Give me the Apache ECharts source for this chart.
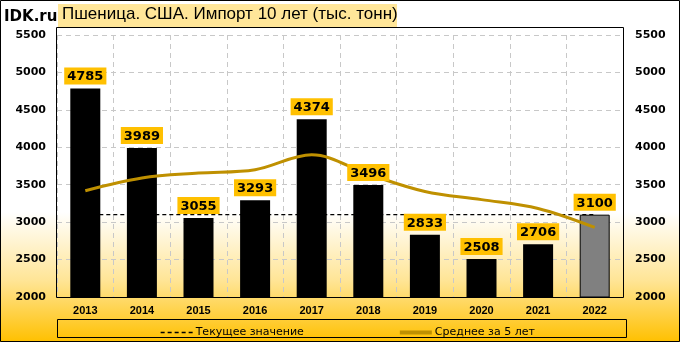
<!DOCTYPE html>
<html><head><meta charset="utf-8">
<script src="https://cdn.jsdelivr.net/npm/echarts@6/dist/echarts.min.js"></script>
<style>html,body{margin:0;padding:0;}#c{width:680px;height:342px;}</style>
</head><body><div id="c"></div>
<script>
const categories = ['2013','2014','2015','2016','2017','2018','2019','2020','2021','2022'];
const imports = [4785, 3989, 3055, 3293, 4374, 3496, 2833, 2508, 2706, 3100];
const avg5 = [3420, 3590, 3655, 3700, 3899, 3641, 3410, 3301, 3183, 2929];
const currentValue = [3100, 3100, 3100, 3100, 3100, 3100, 3100, 3100, 3100, 3100];
const yTicks = [2000, 5500, 500];
const titleText = 'Пшеница. США. Импорт 10 лет (тыс. тонн)';
const siteText = 'IDK.ru';
const legendNames = ['Текущее значение', 'Среднее за 5 лет'];

const chart = echarts.init(document.getElementById('c'), null, {renderer: 'canvas'});
const barData = imports.map((v, i) => i === imports.length - 1
  ? {value: v, itemStyle: {color: '#808080', borderColor: '#000', borderWidth: 1}}
  : v);
const axisLabelStyle = {fontFamily: 'DejaVu Sans', fontWeight: 'bold', fontSize: 11, color: '#000',
  formatter: v => String(v)};
chart.setOption({
  animation: false,
  backgroundColor: {type: 'linear', x: 0, y: 0, x2: 0, y2: 1, colorStops: [
    {offset: 0, color: '#ffffff'}, {offset: 0.62, color: '#ffffff'},
    {offset: 0.82, color: '#FFE596'}, {offset: 1, color: '#FFC000'}]},
  grid: {left: 57, right: 57, top: 35, bottom: 45},
  legend: {
    data: legendNames.map((n, i) => ({name: n, itemStyle: {opacity: 0},
      lineStyle: i === 0 ? {width: 1.3, type: [4, 3]} : {width: 4}})),
    left: 155, top: 322, itemWidth: 32, itemHeight: 12, itemGap: 94,
    textStyle: {fontFamily: 'DejaVu Sans', fontSize: 11, color: '#000', padding: [0,0,0,-2]}
  },
  xAxis: {
    type: 'category', data: categories,
    axisLine: {show: false}, axisTick: {show: false},
    axisLabel: {fontFamily: 'Liberation Sans', fontWeight: 'bold', fontSize: 11, color: '#000', margin: 8},
    splitLine: {show: true, interval: 0, lineStyle: {color: '#c8c8c8', type: [5, 4]}}
  },
  yAxis: [
    {type: 'value', min: yTicks[0], max: yTicks[1], interval: yTicks[2],
     axisLine: {show: false}, axisTick: {show: false},
     axisLabel: Object.assign({margin: 11}, axisLabelStyle),
     splitLine: {lineStyle: {color: '#c8c8c8', type: [5, 4]}}},
    {type: 'value', min: yTicks[0], max: yTicks[1], interval: yTicks[2], position: 'right',
     axisLine: {show: false}, axisTick: {show: false},
     axisLabel: Object.assign({margin: 12}, axisLabelStyle),
     splitLine: {show: false}}
  ],
  series: [
    {name: legendNames[0], type: 'line', data: currentValue, z: 1, symbol: 'none', showSymbol: false,
     lineStyle: {color: '#000', width: 1.3, type: [4, 3]}, itemStyle: {color: '#000'}},
    {name: 'bars', type: 'bar', data: barData, barWidth: 30, z: 2,
     itemStyle: {color: '#000'}},
    {name: legendNames[1], type: 'line', data: avg5, z: 3, symbol: 'none', showSymbol: false, smooth: 0.35,
     lineStyle: {color: '#BF9000', width: 3}, itemStyle: {color: '#BF9000'}},
    {name: 'labels', type: 'bar', data: imports, barWidth: 30, barGap: '-100%', z: 5,
     itemStyle: {color: 'rgba(0,0,0,0)'},
     label: {show: true, position: 'top', distance: 4, backgroundColor: '#FFC000',
       padding: [3, 3, 1, 3], fontFamily: 'DejaVu Sans', fontWeight: 'bold', fontSize: 13, color: '#000'}}
  ],
  graphic: [
    {type: 'rect', z: 0, shape: {x: 0.5, y: 0.5, width: 679, height: 341}, style: {fill: null, stroke: '#000', lineWidth: 1}},
    {type: 'rect', z: 10, shape: {x: 56.5, y: 27.5, width: 567, height: 270}, style: {fill: null, stroke: '#000', lineWidth: 1}},
    {type: 'rect', z: 11, shape: {x: 58, y: 4, width: 339, height: 23}, style: {fill: '#FFE699'}},
    {type: 'text', z: 12, left: 62, top: 6, style: {text: titleText, font: '17px "Liberation Sans"', fill: '#000'}},
    {type: 'text', z: 12, left: 4, top: 10, style: {text: siteText, font: 'bold 15px "DejaVu Sans"', fill: '#000'}},
    {type: 'rect', z: 10, shape: {x: 57.5, y: 319.5, width: 569, height: 18}, style: {fill: null, stroke: '#000', lineWidth: 1}}
  ]
});
</script></body></html>
